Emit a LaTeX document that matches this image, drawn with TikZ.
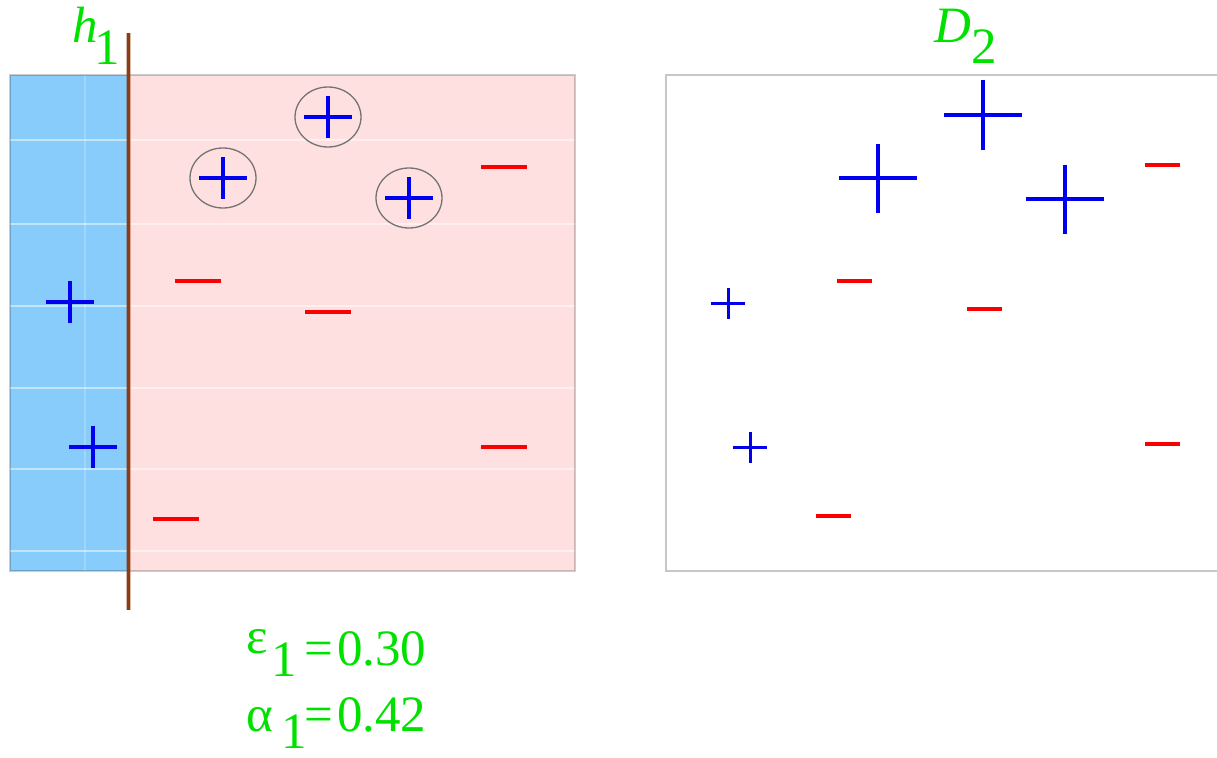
\documentclass[tikz,border=0pt]{standalone}
\usepackage{fontspec}
\newfontfamily\lblfont{Liberation Serif}
\definecolor{lblgreen}{RGB}{0,225,0}
\definecolor{skyb}{RGB}{135,204,250}
\definecolor{pinkr}{RGB}{255,224,224}
\definecolor{brownl}{RGB}{140,60,20}
\definecolor{ptblue}{RGB}{0,0,240}
\definecolor{ptred}{RGB}{250,0,0}
\tikzset{
  lbl/.style={text=lblgreen, inner sep=0pt, outer sep=0pt, font=\lblfont\fontsize{51}{60}\selectfont},
  plusL/.style={inner sep=0pt, outer sep=0pt, minimum width=48pt, minimum height=42pt,
    path picture={\draw[ptblue, line width=3.5pt]
      (path picture bounding box.west) -- (path picture bounding box.east)
      (path picture bounding box.north) -- (path picture bounding box.south);}},
  plusB/.style={inner sep=0pt, outer sep=0pt, minimum width=78pt, minimum height=69pt,
    path picture={\draw[ptblue, line width=4pt]
      (path picture bounding box.west) -- (path picture bounding box.east)
      (path picture bounding box.north) -- (path picture bounding box.south);}},
  plusS/.style={inner sep=0pt, outer sep=0pt, minimum width=34pt, minimum height=31pt,
    path picture={\draw[ptblue, line width=3pt]
      (path picture bounding box.west) -- (path picture bounding box.east)
      (path picture bounding box.north) -- (path picture bounding box.south);}},
  minusL/.style={fill=ptred, inner sep=0pt, outer sep=0pt, minimum width=46pt, minimum height=4pt},
  minusR/.style={fill=ptred, inner sep=0pt, outer sep=0pt, minimum width=35pt, minimum height=3.5pt},
  ring/.style={draw=black!55, line width=1.3pt},
  frame/.style={draw=black, draw opacity=0.2, line width=2.5pt},
  gridline/.style={draw=white, draw opacity=0.5, line width=1.5pt}
}
\begin{document}
\begin{tikzpicture}[x=1pt,y=-1pt]
\useasboundingbox (0,0) rectangle (1217,757);
% left panel: weak classifier h1
\fill[skyb] (10,75) rectangle (127,571);
\fill[pinkr] (127,75) rectangle (575,571);
\foreach \yy in {140,224,306,388,469,551}
  \draw[gridline] (10,\yy) -- (575,\yy);
\draw[gridline, draw opacity=0.2] (85,75) -- (85,571);
\draw[frame] (10,75) rectangle (575,571);
\coordinate (ltop) at (128,33);
\coordinate (lbot) at (128,610);
\draw[brownl, line width=5pt, draw opacity=0.35] (ltop) -- (lbot);
\draw[brownl, line width=3pt] (ltop) -- (lbot);
% points, left
\node[plusL] (p1) at (328,117) {};
\node[plusL] (p2) at (223,178) {};
\node[plusL] (p3) at (409,198) {};
\node[plusL] (p4) at (70,302) {};
\node[plusL] (p5) at (93,447) {};
\draw[ring] (p1.center) ellipse [x radius=33pt, y radius=30pt];
\draw[ring] (p2.center) ellipse [x radius=33pt, y radius=30pt];
\draw[ring] (p3.center) ellipse [x radius=33pt, y radius=30pt];
\node[minusL] (m1) at (504,167) {};
\node[minusL] (m2) at (198,281) {};
\node[minusL] (m3) at (328,312) {};
\node[minusL] (m4) at (504,447) {};
\node[minusL] (m5) at (176,519) {};
% right panel: D2
\draw[draw=black!22, line width=2pt] (666,75) rectangle (1235,571);
\node[plusB] (q1) at (983,115) {};
\node[plusB] (q2) at (878,178) {};
\node[plusB] (q3) at (1065,199) {};
\node[plusS] (q4) at (728,303) {};
\node[plusS] (q5) at (750,447) {};
\node[minusR] (n1) at (1162,165) {};
\node[minusR] (n2) at (854,281) {};
\node[minusR] (n3) at (984,309) {};
\node[minusR] (n4) at (1162,444) {};
\node[minusR] (n5) at (833,516) {};
% labels
\node[lbl, anchor=base west] (h1) at (72,43)
  {\rlap{\itshape h}\kern22pt\raisebox{-22pt}{1}};
\node[lbl, anchor=base west] (d2) at (934,43)
  {\rlap{\itshape D}\kern37.5pt\raisebox{-21pt}{2}};
\node[lbl, anchor=base west] (eps) at (246,665)
  {\rlap{\raisebox{12pt}{ε}}\kern25pt\rlap{\raisebox{-11pt}{1}}\kern33pt\rlap{=}\kern33pt0.30};
\node[lbl, anchor=base west] (alp) at (246,731)
  {\rlap{α}\kern35pt\rlap{\raisebox{-17pt}{1}}\kern23pt\rlap{=}\kern33pt0.42};
\end{tikzpicture}
\end{document}
